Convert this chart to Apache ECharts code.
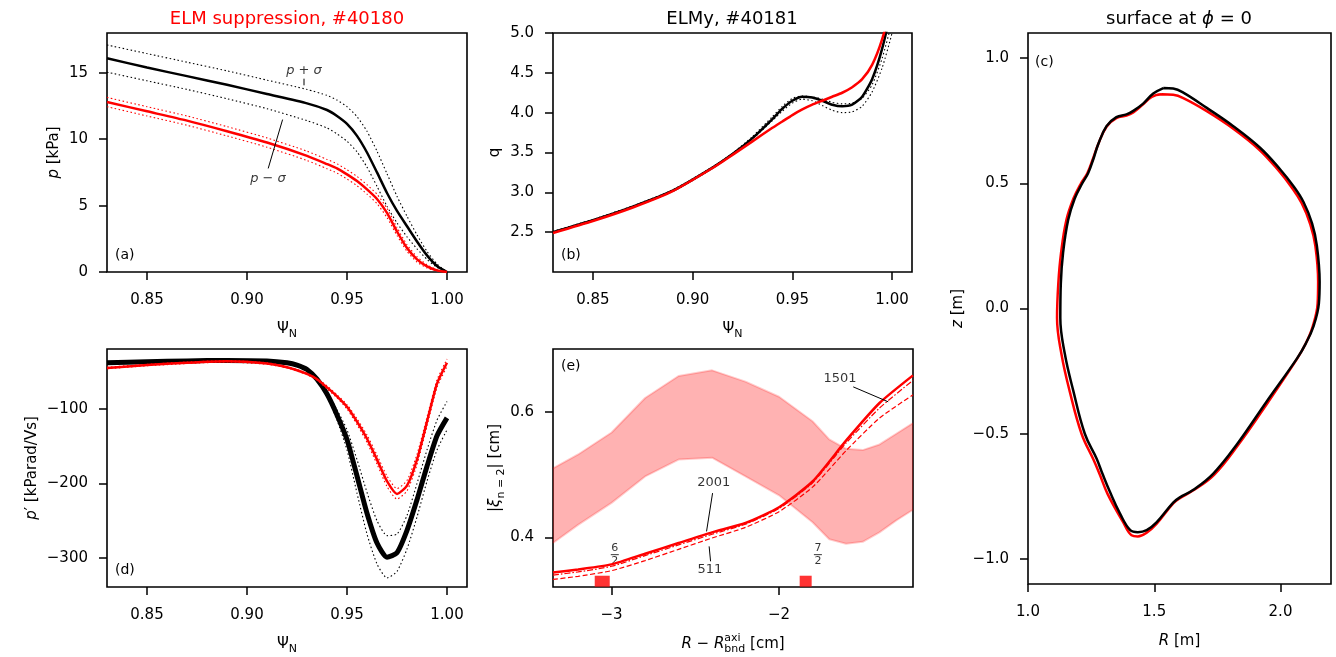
<!DOCTYPE html>
<html><head><meta charset="utf-8">
<script src="https://cdn.jsdelivr.net/npm/echarts@6/dist/echarts.min.js"></script>
<style>html,body{margin:0;padding:0;background:#fff}#c{width:1336px;height:657px}</style>
</head><body><div id="c"></div><script>
// ---------- panel (a): pressure ----------
const psiA = [0.83,0.85,0.87,0.89,0.91,0.93,0.94,0.945,0.95,0.955,0.96,0.965,0.97,0.975,0.98,0.985,0.99,0.995,1.0];
const pElmy      = [16.1,15.4,14.75,14.1,13.4,12.7,12.2,11.75,11.15,10.25,9.0,7.5,5.95,4.6,3.45,2.3,1.25,0.45,0];
const pElmyPlus  = [17.1,16.45,15.8,15.15,14.45,13.75,13.3,12.95,12.45,11.7,10.6,9.1,7.4,5.7,4.2,2.8,1.55,0.6,0];
const pElmyMinus = [15.05,14.4,13.75,13.05,12.3,11.4,10.85,10.4,9.85,9.05,7.9,6.45,4.95,3.7,2.65,1.75,0.95,0.35,0];
const pSupp      = [12.8,12.1,11.4,10.6,9.75,8.75,8.13,7.8,7.35,6.85,6.22,5.5,4.45,3.05,1.8,0.95,0.42,0.12,0];
const pSuppPlus  = [13.15,12.45,11.75,10.95,10.1,9.1,8.48,8.15,7.7,7.2,6.57,5.85,4.8,3.35,2.05,1.15,0.55,0.17,0];
const pSuppMinus = [12.45,11.75,11.05,10.25,9.4,8.4,7.78,7.45,7.0,6.5,5.87,5.15,4.1,2.75,1.55,0.75,0.3,0.07,0];
const annAText = [[0.9285,15.19],[0.9105,7.0]];
const annALine1 = [[0.9285,14.56],[0.9285,14.06]];
const annALine2 = [[0.9178,11.48],[0.9106,7.8]];
// ---------- panel (b): safety factor ----------
const psiB = [0.83,0.85,0.87,0.89,0.91,0.92,0.93,0.94,0.945,0.95,0.955,0.96,0.965,0.97,0.975,0.98,0.985,0.99,0.995,1.0,1.005];
const qElmy   = [2.50,2.65,2.82,3.02,3.31,3.48,3.68,3.92,4.05,4.15,4.20,4.19,4.15,4.10,4.08,4.10,4.20,4.42,4.80,5.35,6.0];
const qElmyUp = [2.51,2.66,2.83,3.03,3.32,3.49,3.70,3.95,4.08,4.18,4.21,4.20,4.17,4.13,4.11,4.12,4.18,4.35,4.68,5.15,5.8];
const qElmyLo = [2.49,2.64,2.81,3.01,3.30,3.47,3.67,3.90,4.02,4.12,4.17,4.15,4.09,4.03,4.00,4.01,4.08,4.26,4.56,5.00,5.6];
const qSupp   = [2.49,2.64,2.81,3.015,3.305,3.47,3.64,3.81,3.89,3.97,4.04,4.10,4.15,4.20,4.25,4.32,4.42,4.60,4.92,5.40,6.1];
// ---------- panel (d): pressure gradient ----------
const psiD = [0.83,0.85,0.87,0.89,0.91,0.92,0.925,0.93,0.935,0.94,0.945,0.95,0.955,0.96,0.965,0.97,0.975,0.98,0.985,0.99,0.995,1.0];
const dpElmy   = [-38,-36.5,-35.5,-34.8,-35.5,-38,-41,-47,-60,-80,-108,-141,-190,-240,-280,-299,-293,-263,-222,-177,-136,-112];
const dpElmyUp = [-38,-36.5,-35.5,-34.8,-35.5,-38,-41,-47,-59,-77,-101,-128,-168,-212,-250,-270,-268,-243,-200,-155,-115,-90];
const dpElmyLo = [-38,-36.5,-35.5,-34.8,-35.5,-38,-41,-47,-61,-83,-115,-155,-213,-268,-308,-327,-318,-288,-245,-197,-155,-128];
const dpSupp   = [-45,-41,-38,-36,-39,-44,-48,-53,-60,-71,-83,-97,-117,-140,-168,-197,-214,-203,-168,-117,-66,-38];
const dpSuppUp = [-44,-40,-37,-35,-38,-43,-47,-52,-59,-69,-81,-94,-113,-135,-162,-190,-207,-196,-161,-111,-61,-33];
const dpSuppLo = [-46,-42,-39,-37,-40,-45,-49,-54,-61,-73,-85,-100,-121,-145,-174,-204,-221,-210,-175,-123,-71,-43];
// ---------- panel (e): displacement ----------
const xE = [-3.35,-3.2,-3.0,-2.8,-2.6,-2.4,-2.2,-2.0,-1.8,-1.6,-1.4,-1.2];
const xi2001 = [0.344,0.349,0.357,0.374,0.391,0.408,0.423,0.448,0.489,0.554,0.614,0.658];
const xi1501 = [0.340,0.345,0.354,0.371,0.388,0.405,0.421,0.446,0.487,0.550,0.606,0.650];
const xi511  = [0.333,0.338,0.347,0.363,0.381,0.399,0.416,0.441,0.480,0.538,0.590,0.627];
const xBand  = [-3.35,-3.2,-3.0,-2.8,-2.6,-2.4,-2.2,-2.0,-1.8,-1.7,-1.6,-1.5,-1.4,-1.3,-1.2];
const bandUp = [0.510,0.532,0.567,0.622,0.657,0.666,0.648,0.624,0.585,0.556,0.541,0.539,0.548,0.565,0.582];
const bandLo = [0.391,0.420,0.455,0.497,0.524,0.527,0.497,0.467,0.424,0.397,0.390,0.393,0.408,0.427,0.444];
const resX = [-3.056,-1.841];
const resY = [0.3302,0.3302];
const resW = [15,12];
const resNum = ['6','7'];
const resDen = ['2','2'];
const resLabelPos = [[-2.981,0.3725],[-1.768,0.3725]];
const annEText = [[-1.636,0.6535,'1501'],[-2.3895,0.4868,'2001'],[-2.413,0.3487,'511']];
const annELines = [[[-1.557,0.6397],[-1.348,0.6159]],[[-2.397,0.4705],[-2.433,0.4095]],[[-2.4175,0.3857],[-2.409,0.3619]]];
// ---------- panel (c): boundary ----------
const rBlack = [1.536,1.575,1.615,1.708,1.813,1.919,1.999,2.05,2.091,2.125,2.144,2.155,2.152,2.131,2.1,2.065,1.946,1.827,1.734,1.655,1.6,1.575,1.509,1.47,1.435,1.405,1.364,1.324,1.295,1.272,1.225,1.179,1.146,1.128,1.13,1.139,1.159,1.185,1.215,1.238,1.26,1.278,1.311,1.35,1.39,1.417,1.456,1.496,1.536];
const zBlack = [0.880,0.878,0.862,0.801,0.728,0.642,0.555,0.49,0.425,0.34,0.251,0.107,0.02,-0.07,-0.14,-0.2,-0.37,-0.543,-0.659,-0.724,-0.755,-0.775,-0.854,-0.885,-0.893,-0.885,-0.818,-0.731,-0.66,-0.6,-0.5,-0.327,-0.182,-0.038,0.1,0.223,0.353,0.439,0.5,0.54,0.6,0.656,0.728,0.764,0.775,0.789,0.818,0.858,0.880];
const rRed = [1.53,1.575,1.615,1.708,1.813,1.915,1.993,2.043,2.084,2.118,2.138,2.149,2.147,2.128,2.1,2.066,1.95,1.83,1.737,1.655,1.6,1.575,1.509,1.47,1.435,1.41,1.375,1.315,1.285,1.26,1.212,1.165,1.133,1.115,1.12,1.131,1.152,1.18,1.21,1.235,1.258,1.278,1.311,1.35,1.39,1.417,1.45,1.49,1.53];
const zRed = [0.855,0.853,0.84,0.788,0.718,0.635,0.55,0.485,0.42,0.336,0.25,0.107,0.02,-0.07,-0.14,-0.2,-0.375,-0.548,-0.664,-0.726,-0.758,-0.778,-0.86,-0.895,-0.91,-0.905,-0.85,-0.74,-0.665,-0.605,-0.5,-0.33,-0.185,-0.038,0.1,0.223,0.353,0.439,0.5,0.54,0.6,0.656,0.726,0.76,0.77,0.783,0.81,0.845,0.855];
// ---------- tick values ----------
const ticksPsi = [0.85,0.90,0.95,1.00];
const ticksP = [0,5,10,15];
const ticksQ = [2.5,3.0,3.5,4.0,4.5,5.0];
const ticksDp = [-300,-200,-100];
const ticksEx = [-3,-2];
const ticksEy = [0.4,0.6];
const ticksR = [1.0,1.5,2.0];
const ticksZ = [-1.0,-0.5,0.0,0.5,1.0];

const FONT = 'DejaVu Sans';
const zip = (xs, ys) => xs.map((x, i) => [x, ys[i]]);
const num = d => v => (v < 0 ? '\u2212' : '') + Math.abs(v).toFixed(d);
const rich = {
  i: {fontStyle: 'italic', fontFamily: FONT, fontSize: 15, color: '#000', lineHeight: 22, align: 'left'},
  a: {fontFamily: FONT, fontSize: 15, color: '#000', lineHeight: 22, align: 'left'},
  t: {fontFamily: FONT, fontSize: 15, color: '#000', lineHeight: 22, align: 'left'},
  s: {fontFamily: FONT, fontSize: 11, color: '#000', lineHeight: 12, verticalAlign: 'bottom', align: 'left'},
  sup: {fontFamily: FONT, fontSize: 11, color: '#000', lineHeight: 12, verticalAlign: 'top', width: 0, align: 'left'}
};
function grid(l, t, w, h) {
  return {left: l, top: t, width: w, height: h, show: true, borderColor: '#000', borderWidth: 1.6, backgroundColor: 'transparent'};
}
function axis(gi, min, max, ticks, fmt, name, gap, margin) {
  return {
    type: 'value', gridIndex: gi, min: min, max: max, name: name, nameLocation: 'middle', nameGap: gap,
    nameTextStyle: {fontFamily: FONT, fontSize: 15, color: '#000', lineHeight: 22, rich: rich},
    axisLine: {show: false, onZero: false}, splitLine: {show: false},
    axisTick: {show: true, customValues: ticks, length: 8, lineStyle: {color: '#000', width: 1.5}},
    axisLabel: {show: true, customValues: ticks, formatter: fmt, fontFamily: FONT, fontSize: 15, color: '#000', margin: margin}
  };
}
function line(gi, data, color, width, type, extra) {
  return Object.assign({type: 'line', xAxisIndex: gi, yAxisIndex: gi, data: data, showSymbol: false, symbol: 'none',
    smooth: 0.2, animation: false, lineStyle: {color: color, width: width, type: type || 'solid'}}, extra || {});
}
const DOT = [1.5, 2.5];
const psiName = '{a|\u03a8}{s|N}';

const series = [
  // (a)
  line(0, zip(psiA, pElmyPlus), '#000', 1.1, DOT),
  line(0, zip(psiA, pElmyMinus), '#000', 1.1, DOT),
  line(0, zip(psiA, pElmy), '#000', 2.5),
  line(0, zip(psiA, pSuppPlus), '#f00', 1.1, DOT),
  line(0, zip(psiA, pSuppMinus), '#f00', 1.1, DOT),
  line(0, zip(psiA, pSupp), '#f00', 2.5),
  line(0, annALine1, '#000', 1, 'solid', {smooth: false}),
  line(0, annALine2, '#000', 1, 'solid', {smooth: false}),
  {type: 'scatter', xAxisIndex: 0, yAxisIndex: 0, data: annAText, symbolSize: 0, animation: false,
   label: {show: true, position: 'inside', color: '#000',
     formatter: p => p.dataIndex === 0 ? '{i|p} + {i|\u03c3}' : '{i|p} \u2212 {i|\u03c3}',
     fontFamily: FONT, fontSize: 13,
     rich: {i: {fontStyle: 'italic', fontFamily: FONT, fontSize: 13, color: '#000'}}}},
  // (b)
  line(1, zip(psiB, qElmyUp), '#000', 1.1, DOT),
  line(1, zip(psiB, qElmyLo), '#000', 1.1, DOT),
  line(1, zip(psiB, qElmy), '#000', 2.5),
  line(1, zip(psiB, qSupp), '#f00', 2.5),
  // (c)
  line(2, zip(rRed, zRed), '#f00', 2.5, 'solid', {smooth: 0.4}),
  line(2, zip(rBlack, zBlack), '#000', 2.5, 'solid', {smooth: 0.4}),
  // (d)
  line(3, zip(psiD, dpElmyUp), '#000', 1.1, DOT),
  line(3, zip(psiD, dpElmyLo), '#000', 1.1, DOT),
  line(3, zip(psiD, dpElmy), '#000', 5),
  line(3, zip(psiD, dpSuppUp), '#f00', 1.1, DOT),
  line(3, zip(psiD, dpSuppLo), '#f00', 1.1, DOT),
  line(3, zip(psiD, dpSupp), '#f00', 2.5),
  // (e)
  {type: 'custom', xAxisIndex: 4, yAxisIndex: 4, animation: false, silent: true,
   data: xBand.map((x, i) => [x, bandUp[i], bandLo[i]]),
   renderItem: function (params, api) {
     if (params.dataIndex !== 0) return null;
     const pts = [];
     for (let i = 0; i < xBand.length; i++) pts.push(api.coord([xBand[i], bandUp[i]]));
     for (let i = xBand.length - 1; i >= 0; i--) pts.push(api.coord([xBand[i], bandLo[i]]));
     return {type: 'polygon', shape: {points: pts}, style: {fill: 'rgba(255,0,0,0.3)'}};
   }},
  line(4, zip(xBand, bandUp), 'rgba(255,0,0,0.2)', 2, 'solid', {smooth: false}),
  line(4, zip(xBand, bandLo), 'rgba(255,0,0,0.2)', 2, 'solid', {smooth: false}),
  line(4, zip(xE, xi511), '#f00', 1.2, [5, 2.5]),
  line(4, zip(xE, xi1501), '#f00', 1.2, [6, 2, 1.5, 2]),
  line(4, zip(xE, xi2001), '#f00', 2.5),
  {type: 'scatter', xAxisIndex: 4, yAxisIndex: 4, animation: false, symbol: 'rect',
   itemStyle: {color: '#f00'},
   data: resX.map((x, i) => ({value: [x, resY[i]], symbolSize: [resW[i], 11]}))},
  {type: 'scatter', xAxisIndex: 4, yAxisIndex: 4, animation: false, symbolSize: 0,
   data: resLabelPos,
   label: {show: true, position: 'inside', color: '#000',
     formatter: p => '{n|' + resNum[p.dataIndex] + '}\n{bar| }\n{n|' + resDen[p.dataIndex] + '}',
     rich: {n: {fontFamily: FONT, fontSize: 11, lineHeight: 10, color: '#000', align: 'center'},
            bar: {width: 8, height: 1, lineHeight: 3, fontSize: 1, backgroundColor: '#000', align: 'center'}}}},
  {type: 'scatter', xAxisIndex: 4, yAxisIndex: 4, animation: false, symbolSize: 0,
   data: annEText,
   label: {show: true, position: 'inside', color: '#000', fontFamily: FONT, fontSize: 13,
     formatter: p => p.data[2]}}
].concat(annELines.map(l => line(4, l, '#000', 1, 'solid', {smooth: false})));

const option = {
  animation: false,
  backgroundColor: '#fff',
  grid: [grid(107, 33, 360, 239), grid(553, 33, 359, 239), grid(1028, 33, 303, 555), grid(107, 349, 360, 238), grid(553, 349, 360, 238)],
  xAxis: [
    axis(0, 0.83, 1.01, ticksPsi, num(2), psiName, 46, 21),
    axis(1, 0.83, 1.01, ticksPsi, num(2), psiName, 46, 21),
    axis(2, 1.0, 2.2, ticksR, num(1), '{i|R}{t| [m]}', 46, 21),
    axis(3, 0.83, 1.01, ticksPsi, num(2), psiName, 46, 21),
    axis(4, -3.35, -1.2, ticksEx, num(0), '{i|R}{t| \u2212 }{i|R}{sup|axi}{s|bnd}{t| [cm]}', 46, 21)
  ],
  yAxis: [
    axis(0, 0, 18, ticksP, num(0), '{i|p}{t| [kPa]}', 28, 19),
    axis(1, 2.0, 5.0, ticksQ, num(1), 'q', 40, 19),
    axis(2, -1.1, 1.1, ticksZ, num(1), '{i|z}{t| [m]}', 52, 19),
    axis(3, -339, -19.5, ticksDp, num(0), '{i|p}{t|\u2032 [kParad/Vs]}', 57, 19),
    axis(4, 0.321, 0.70, ticksEy, num(1), '{t||}{i|\u03be}{s|n = 2}{t|| [cm]}', 41, 19)
  ],
  series: series,
  graphic: [
    {type: 'text', x: 287, y: 19, style: {text: 'ELM suppression, #40180', fill: '#f00', fontFamily: FONT, fontSize: 18, align: 'center', verticalAlign: 'middle'}},
    {type: 'text', x: 732, y: 19, style: {text: 'ELMy, #40181', fill: '#000', fontFamily: FONT, fontSize: 18, align: 'center', verticalAlign: 'middle'}},
    {type: 'text', x: 1179, y: 19, style: {text: 'surface at {i|\u03d5} = 0', fill: '#000', fontFamily: FONT, fontSize: 18, align: 'center', verticalAlign: 'middle',
      rich: {i: {fontStyle: 'italic', fontFamily: FONT, fontSize: 18, fill: '#000'}}}},
    {type: 'text', x: 115, y: 255, style: {text: '(a)', fill: '#000', fontFamily: FONT, fontSize: 14, align: 'left', verticalAlign: 'middle'}},
    {type: 'text', x: 561, y: 255, style: {text: '(b)', fill: '#000', fontFamily: FONT, fontSize: 14, align: 'left', verticalAlign: 'middle'}},
    {type: 'text', x: 1035, y: 62, style: {text: '(c)', fill: '#000', fontFamily: FONT, fontSize: 14, align: 'left', verticalAlign: 'middle'}},
    {type: 'text', x: 115, y: 570, style: {text: '(d)', fill: '#000', fontFamily: FONT, fontSize: 14, align: 'left', verticalAlign: 'middle'}},
    {type: 'text', x: 561, y: 366, style: {text: '(e)', fill: '#000', fontFamily: FONT, fontSize: 14, align: 'left', verticalAlign: 'middle'}}
  ]
};
const chart = echarts.init(document.getElementById('c'), null, {renderer: 'canvas'});
chart.setOption(option);
</script></body></html>
